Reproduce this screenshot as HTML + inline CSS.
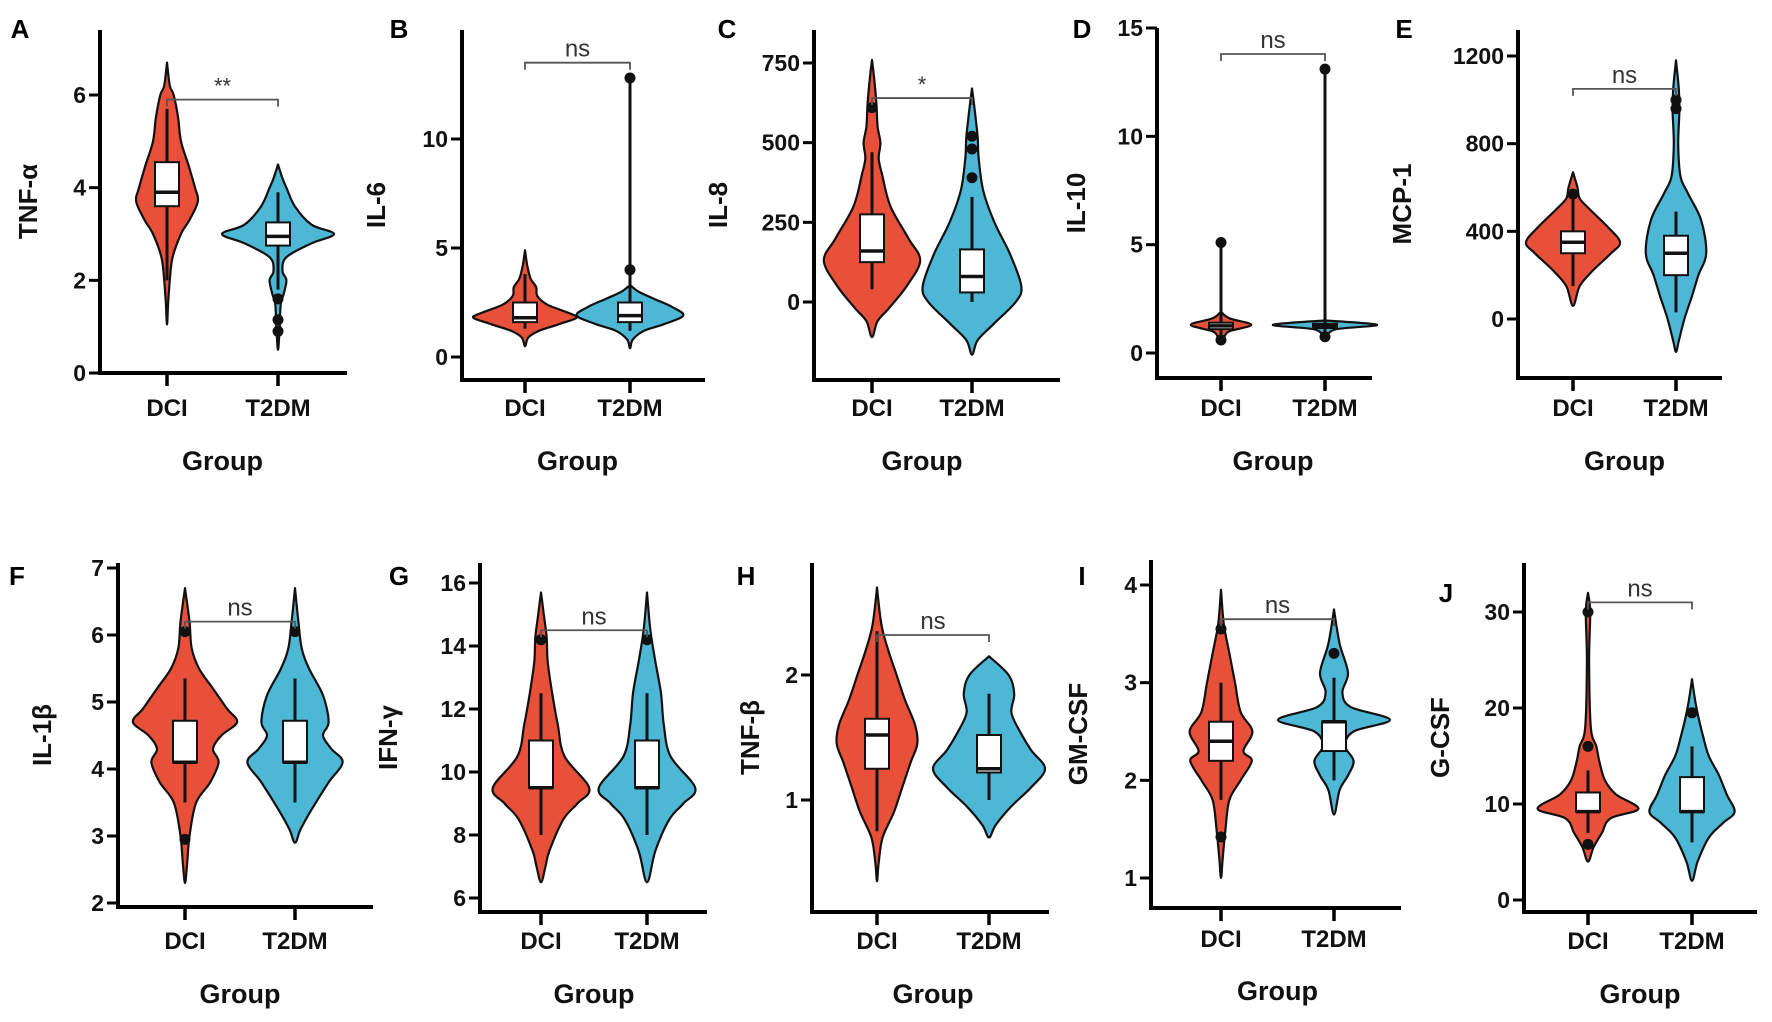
<!DOCTYPE html>
<html><head><meta charset="utf-8"><style>
html,body{margin:0;padding:0;background:#fff;}
svg{display:block;font-family:"Liberation Sans",Arial,sans-serif;}
</style></head><body>
<svg id="fig" width="1772" height="1022" viewBox="0 0 1772 1022"></svg>
<script>
// ---------- DATA ----------
const groups = ["DCI","T2DM"];
// tick labels
const tnfaTicks=[0,2,4,6], il6Ticks=[0,5,10], il8Ticks=[0,250,500,750], il10Ticks=[0,5,10,15], mcpTicks=[0,400,800,1200];
const il1bTicks=[2,3,4,5,6,7], ifngTicks=[6,8,10,12,14,16], tnfbTicks=[1,2], gmcsfTicks=[1,2,3,4], gcsfTicks=[0,10,20,30];
// violin density profiles [value, relative density]
const tnfaDCI=[[6.7,0],[6.2,0.05],[6.0,0.12],[5.5,0.2],[5.0,0.25],[4.5,0.38],[4.0,0.5],[3.7,0.55],[3.3,0.4],[3.0,0.25],[2.5,0.1],[2.0,0.05],[1.5,0.02],[1.05,0]];
const tnfaT2=[[4.5,0],[4.2,0.08],[4.0,0.15],[3.6,0.3],[3.2,0.6],[3.0,1.0],[2.8,0.6],[2.5,0.15],[2.2,0.08],[2.0,0.15],[1.7,0.1],[1.5,0.05],[1.0,0.03],[0.5,0]];
const il6DCI=[[4.9,0],[4.2,0.04],[3.6,0.1],[3.2,0.2],[2.8,0.22],[2.4,0.4],[2.0,0.8],[1.8,0.92],[1.5,0.6],[1.2,0.25],[0.9,0.06],[0.5,0]];
const il6T2=[[3.3,0],[3.0,0.15],[2.7,0.4],[2.3,0.75],[1.9,0.95],[1.5,0.6],[1.2,0.25],[0.8,0.05],[0.4,0]];
const il8DCI=[[760,0],[700,0.04],[620,0.08],[550,0.1],[500,0.15],[450,0.12],[400,0.18],[300,0.33],[200,0.65],[130,0.86],[50,0.62],[-20,0.3],[-60,0.1],[-110,0]];
const il8T2=[[670,0],[600,0.05],[520,0.1],[450,0.12],[350,0.2],[250,0.4],[150,0.68],[50,0.88],[0,0.78],[-70,0.38],[-120,0.1],[-165,0]];
const il10DCI=[[1.9,0],[1.6,0.15],[1.3,0.54],[1.0,0.15],[0.7,0.05],[0.4,0]];
const il10T2=[[1.5,0],[1.3,0.93],[1.1,0.2],[0.8,0]];
const mcpDCI=[[670,0],[600,0.08],[550,0.12],[500,0.3],[420,0.62],[350,0.84],[300,0.68],[220,0.35],[150,0.12],[60,0]];
const mcpT2=[[1180,0],[1050,0.05],[950,0.06],[800,0.04],[650,0.08],[570,0.22],[450,0.45],[300,0.54],[200,0.4],[100,0.28],[0,0.15],[-100,0.05],[-150,0]];
const il1bDCI=[[6.7,0],[6.2,0.08],[5.8,0.12],[5.5,0.25],[5.2,0.5],[4.9,0.75],[4.7,0.93],[4.5,0.65],[4.3,0.5],[4.1,0.6],[3.8,0.45],[3.5,0.2],[3.0,0.08],[2.6,0.04],[2.3,0]];
const il1bT2=[[6.7,0],[6.2,0.06],[5.8,0.12],[5.5,0.25],[5.1,0.5],[4.7,0.6],[4.5,0.5],[4.3,0.65],[4.1,0.85],[3.8,0.6],[3.4,0.3],[3.1,0.1],[2.9,0]];
const ifngDCI=[[15.7,0],[15,0.05],[14.3,0.1],[13.5,0.12],[12.5,0.2],[11.5,0.3],[10.5,0.42],[9.5,0.86],[9,0.65],[8.5,0.4],[7.5,0.15],[7,0.08],[6.5,0]];
const ifngT2=[[15.7,0],[14.5,0.06],[13.5,0.15],[12.5,0.25],[11.5,0.3],[10.5,0.42],[9.5,0.86],[9,0.65],[8.5,0.4],[7.5,0.15],[6.5,0]];
const tnfbDCI=[[2.7,0],[2.4,0.08],[2.2,0.2],[2.0,0.35],[1.8,0.5],[1.6,0.68],[1.45,0.72],[1.3,0.6],[1.1,0.45],[0.9,0.3],[0.7,0.1],[0.5,0.03],[0.35,0]];
const tnfbT2=[[2.15,0],[2.0,0.35],[1.85,0.45],[1.7,0.4],[1.55,0.55],[1.4,0.75],[1.25,1.0],[1.1,0.75],[0.95,0.4],[0.8,0.12],[0.7,0]];
const gmcsfDCI=[[3.95,0],[3.6,0.05],[3.3,0.15],[3.0,0.25],[2.7,0.35],[2.5,0.56],[2.3,0.4],[2.2,0.55],[2.0,0.35],[1.8,0.15],[1.5,0.08],[1.2,0.03],[1.0,0]];
const gmcsfT2=[[3.75,0],[3.4,0.1],[3.1,0.25],[2.9,0.15],[2.75,0.3],[2.62,1.0],[2.5,0.35],[2.35,0.2],[2.2,0.35],[2.05,0.25],[1.9,0.1],[1.65,0]];
const gcsfDCI=[[32,0],[30,0.04],[25,0.02],[18,0.05],[16,0.15],[14.5,0.2],[12.5,0.3],[11,0.5],[9.5,0.9],[8.5,0.4],[7,0.25],[5.5,0.1],[4,0]];
const gcsfT2=[[23,0],[20,0.08],[17,0.2],[15,0.3],[13,0.48],[11,0.62],[9.2,0.76],[8,0.55],[6.5,0.3],[4,0.1],[2,0]];
// box stats [whiskerLo, q1, median, q3, whiskerHi] per group
const tnfaBox=[[2.0,3.6,3.9,4.55,5.7],[1.8,2.75,2.95,3.25,3.9]];
const il6Box=[[1.3,1.6,1.8,2.5,3.8],[1.2,1.6,1.9,2.5,12.8]];
const il8Box=[[40,125,160,275,470],[0,30,80,165,330]];
const il10Box=[[0.6,1.1,1.25,1.4,5.1],[0.75,1.15,1.25,1.35,13.1]];
const mcpBox=[[150,300,350,400,560],[30,200,300,380,490]];
const il1bBox=[[3.5,4.1,4.1,4.72,5.35],[3.5,4.1,4.1,4.72,5.35]];
const ifngBox=[[8,9.5,9.5,11,12.5],[8,9.5,9.5,11,12.5]];
const tnfbBox=[[0.75,1.25,1.52,1.65,2.35],[1.0,1.22,1.25,1.52,1.85]];
const gmcsfBox=[[1.8,2.2,2.4,2.6,3.0],[2.0,2.3,2.6,2.6,3.05]];
const gcsfBox=[[7,9.2,9.2,11.2,13.5],[6,9.2,9.2,12.8,16]];
// outliers per group
const tnfaOut=[[],[1.6,1.15,0.9]];
const il6Out=[[],[4.0,12.8]];
const il8Out=[[610],[390,480,520]];
const il10Out=[[5.1,0.6],[13.1,0.75]];
const mcpOut=[[570],[1000,960]];
const il1bOut=[[6.05,2.95],[6.05]];
const ifngOut=[[14.2],[14.2]];
const tnfbOut=[[],[]];
const gmcsfOut=[[3.55,1.42],[3.3]];
const gcsfOut=[[30,16,5.8],[19.5]];
// significance: [bracket value, label]
const tnfaSig=[5.9,"**"], il6Sig=[13.5,"ns"], il8Sig=[640,"*"], il10Sig=[13.8,"ns"], mcpSig=[1050,"ns"];
const il1bSig=[6.2,"ns"], ifngSig=[14.5,"ns"], tnfbSig=[2.32,"ns"], gmcsfSig=[3.65,"ns"], gcsfSig=[31,"ns"];

// ---------- LAYOUT ----------
const panels=[
 {id:"A",name:"tnf-alpha",ylab:"TNF-α",ticks:tnfaTicks,v:[tnfaDCI,tnfaT2],box:tnfaBox,out:tnfaOut,sig:tnfaSig,
  ax:100,x1:347,cx:[167,278],top:30,base:373,a:[0,373],b:[6,95],labY:407,grpY:460,lx:20,ly:28,ylx:28},
 {id:"B",name:"il-6",ylab:"IL-6",ticks:il6Ticks,v:[il6DCI,il6T2],box:il6Box,out:il6Out,sig:il6Sig,
  ax:462,x1:705,cx:[525,630],top:30,base:380,a:[0,357],b:[10,139],labY:407,grpY:460,lx:399,ly:28,ylx:376},
 {id:"C",name:"il-8",ylab:"IL-8",ticks:il8Ticks,v:[il8DCI,il8T2],box:il8Box,out:il8Out,sig:il8Sig,
  ax:814,x1:1060,cx:[872,972],top:30,base:380,a:[0,302],b:[750,63],labY:407,grpY:460,lx:727,ly:28,ylx:718},
 {id:"D",name:"il-10",ylab:"IL-10",ticks:il10Ticks,v:[il10DCI,il10T2],box:il10Box,out:il10Out,sig:il10Sig,
  ax:1157,x1:1372,cx:[1221,1325],top:28,base:378,a:[0,353],b:[15,28],labY:407,grpY:460,lx:1082,ly:28,ylx:1076},
 {id:"E",name:"mcp-1",ylab:"MCP-1",ticks:mcpTicks,v:[mcpDCI,mcpT2],box:mcpBox,out:mcpOut,sig:mcpSig,
  ax:1518,x1:1722,cx:[1573,1676],top:30,base:378,a:[0,319],b:[1200,56],labY:407,grpY:460,lx:1404,ly:28,ylx:1402},
 {id:"F",name:"il-1beta",ylab:"IL-1β",ticks:il1bTicks,v:[il1bDCI,il1bT2],box:il1bBox,out:il1bOut,sig:il1bSig,
  ax:118,x1:373,cx:[185,295],top:563,base:907,a:[2,903],b:[7,568],labY:940,grpY:993,lx:17,ly:575,ylx:42},
 {id:"G",name:"ifn-gamma",ylab:"IFN-γ",ticks:ifngTicks,v:[ifngDCI,ifngT2],box:ifngBox,out:ifngOut,sig:ifngSig,
  ax:480,x1:707,cx:[541,647],top:563,base:912,a:[6,898],b:[16,583],labY:940,grpY:993,lx:399,ly:575,ylx:388},
 {id:"H",name:"tnf-beta",ylab:"TNF-β",ticks:tnfbTicks,v:[tnfbDCI,tnfbT2],box:tnfbBox,out:tnfbOut,sig:tnfbSig,
  ax:812,x1:1049,cx:[877,989],top:563,base:912,a:[1,800],b:[2,675],labY:940,grpY:993,lx:746,ly:575,ylx:750},
 {id:"I",name:"gm-csf",ylab:"GM-CSF",ticks:gmcsfTicks,v:[gmcsfDCI,gmcsfT2],box:gmcsfBox,out:gmcsfOut,sig:gmcsfSig,
  ax:1151,x1:1401,cx:[1221,1334],top:560,base:908,a:[1,878],b:[4,585],labY:938,grpY:990,lx:1082,ly:575,ylx:1078},
 {id:"J",name:"g-csf",ylab:"G-CSF",ticks:gcsfTicks,v:[gcsfDCI,gcsfT2],box:gcsfBox,out:gcsfOut,sig:gcsfSig,
  ax:1524,x1:1757,cx:[1588,1692],top:563,base:912,a:[0,900],b:[30,612],labY:940,grpY:993,lx:1446,ly:592,ylx:1440}
];
const COLORS=["#E8503A","#4DB7D6"];
const HALF=56, BOXH=12;
const NS="http://www.w3.org/2000/svg";
const svg=document.getElementById("fig");
function mk(tag,attrs,parent){const e=document.createElementNS(NS,tag);for(const k in attrs)e.setAttribute(k,attrs[k]);(parent||svg).appendChild(e);return e;}
function smooth(pts){
  let d="M"+pts[0][0].toFixed(1)+","+pts[0][1].toFixed(1);
  for(let i=0;i<pts.length-1;i++){
    const p0=pts[Math.max(0,i-1)],p1=pts[i],p2=pts[i+1],p3=pts[Math.min(pts.length-1,i+2)];
    const c1=[p1[0]+(p2[0]-p0[0])/6,p1[1]+(p2[1]-p0[1])/6];
    const c2=[p2[0]-(p3[0]-p1[0])/6,p2[1]-(p3[1]-p1[1])/6];
    d+=" C"+c1[0].toFixed(1)+","+c1[1].toFixed(1)+" "+c2[0].toFixed(1)+","+c2[1].toFixed(1)+" "+p2[0].toFixed(1)+","+p2[1].toFixed(1);
  }
  return d;
}
panels.forEach(p=>{
  const g=mk("g",{});
  
  
  const y=v=>p.a[1]+(v-p.a[0])*(p.b[1]-p.a[1])/(p.b[0]-p.a[0]);
  const L=mk("text",{x:p.lx,y:p.ly+10,"font-size":26,"font-weight":"bold","text-anchor":"middle",fill:"#000"},g);
  L.textContent=p.id;
  
  
  p.v.forEach((prof,gi)=>{
    const cx=p.cx[gi];
    const right=prof.map(q=>[cx+q[1]*HALF,y(q[0])]);
    const left=prof.slice().reverse().map(q=>[cx-q[1]*HALF,y(q[0])]);
    const pts=right.concat(left.slice(1));
    const path=mk("path",{d:smooth(pts)+" Z",fill:COLORS[gi],stroke:"#111","stroke-width":2.2,"stroke-linejoin":"round"},g);
    
    
    const b=p.box[gi];
    const wl=mk("line",{x1:cx,x2:cx,y1:y(b[0]),y2:y(b[4]),stroke:"#111","stroke-width":3},g);
    
    
    const rect=mk("rect",{x:cx-BOXH,y:y(b[3]),width:BOXH*2,height:Math.max(2,y(b[1])-y(b[3])),fill:"#fff",stroke:"#111","stroke-width":2},g);
    
    
    const med=mk("line",{x1:cx-BOXH,x2:cx+BOXH,y1:y(b[2]),y2:y(b[2]),stroke:"#111","stroke-width":3.5},g);
    
    
    p.out[gi].forEach(o=>{
      const c=mk("circle",{cx:cx,cy:y(o),r:5.5,fill:"#111"},g);
      
      
    });
  });
  const ya=mk("line",{x1:p.ax,x2:p.ax,y1:p.top,y2:p.base+2,stroke:"#000","stroke-width":4},g);
  
  
  const xa=mk("line",{x1:p.ax-2,x2:p.x1,y1:p.base,y2:p.base,stroke:"#000","stroke-width":4},g);
  
  
  p.ticks.forEach(t=>{
    const ty=y(t);
    const tl=mk("line",{x1:p.ax-11,x2:p.ax,y1:ty,y2:ty,stroke:"#000","stroke-width":3},g);
    
    
    const tt=mk("text",{x:p.ax-14,y:ty+8,"font-size":23,"font-weight":"bold","text-anchor":"end",fill:"#111"},g);
    tt.textContent=t;
    
    
  });
  groups.forEach((gn,gi)=>{
    const cx=p.cx[gi];
    const tk=mk("line",{x1:cx,x2:cx,y1:p.base,y2:p.base+13,stroke:"#000","stroke-width":3.5},g);
    
    
    const lt=mk("text",{x:cx,y:p.labY+9,"font-size":24,"font-weight":"bold","text-anchor":"middle",fill:"#111"},g);
    lt.textContent=gn;
    
    
  });
  const gt=mk("text",{x:(p.cx[0]+p.cx[1])/2,y:p.grpY+10,"font-size":27,"font-weight":"bold","text-anchor":"middle",fill:"#111"},g);
  gt.textContent="Group";
  
  
  const mid=(p.top+p.base)/2;
  const yt=mk("text",{x:0,y:0,"font-size":26,"font-weight":"bold","text-anchor":"middle",fill:"#111",transform:"translate("+(p.ylx+9)+","+mid+") rotate(-90)"},g);
  yt.textContent=p.ylab;
  
  
  const sy=y(p.sig[0]);
  const br=mk("path",{d:"M"+p.cx[0]+","+(sy+7)+" L"+p.cx[0]+","+sy+" L"+p.cx[1]+","+sy+" L"+p.cx[1]+","+(sy+7),fill:"none",stroke:"#555","stroke-width":1.8},g);
  
  
  const st=mk("text",{x:(p.cx[0]+p.cx[1])/2,y:sy-6,"font-size":p.sig[1]==="ns"?24:22,"text-anchor":"middle",fill:"#333"},g);
  st.textContent=p.sig[1];
  
  
});
</script>
</body></html>
